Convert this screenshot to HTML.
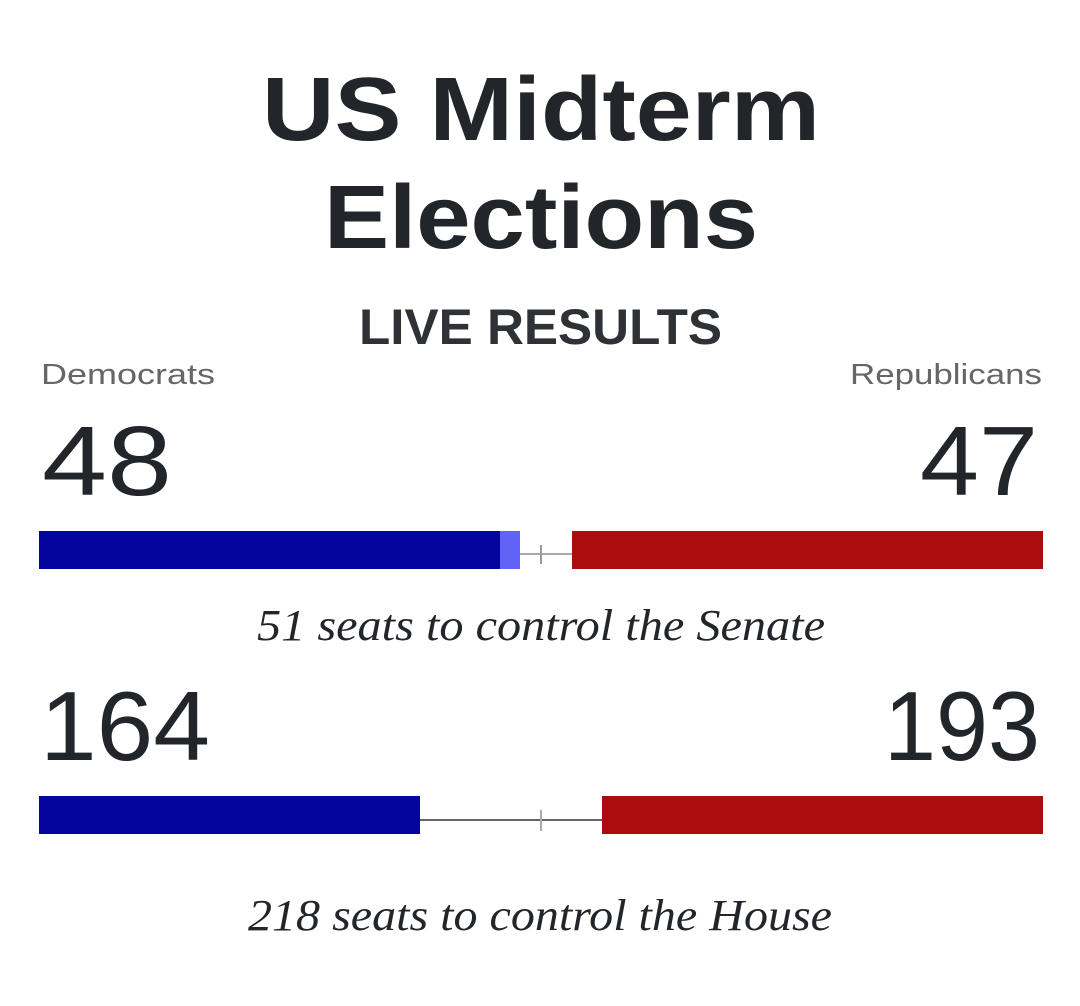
<!DOCTYPE html>
<html><head><meta charset="utf-8"><style>
html,body{margin:0;padding:0;background:#fff;}
svg{display:block;}
</style></head><body>
<svg width="1080" height="1006" viewBox="0 0 1080 1006" xmlns="http://www.w3.org/2000/svg">
<rect width="1080" height="1006" fill="#fff"/>
<g font-family="Liberation Sans, Arial, sans-serif" fill="#22262b" font-weight="bold">
<text x="262" y="140" font-size="90" textLength="558" lengthAdjust="spacingAndGlyphs">US Midterm</text>
<text x="324" y="248" font-size="90" textLength="434" lengthAdjust="spacingAndGlyphs">Elections</text>
<text x="359" y="344" font-size="50" fill="#2e3135" textLength="363" lengthAdjust="spacingAndGlyphs">LIVE RESULTS</text>
</g>
<g font-family="Liberation Sans, Arial, sans-serif" fill="#666" font-size="29">
<text x="41" y="384" textLength="174" lengthAdjust="spacingAndGlyphs">Democrats</text>
<text x="850" y="384" textLength="192" lengthAdjust="spacingAndGlyphs">Republicans</text>
</g>
<g font-family="Liberation Sans, Arial, sans-serif" fill="#22262b" font-size="98">
<text x="42" y="495" textLength="130" lengthAdjust="spacingAndGlyphs">48</text>
<text x="920" y="495" textLength="118" lengthAdjust="spacingAndGlyphs">47</text>
<text x="40" y="760" textLength="170" lengthAdjust="spacingAndGlyphs">164</text>
<text x="884" y="760" textLength="156" lengthAdjust="spacingAndGlyphs">193</text>
</g>
<!-- Senate bar -->
<rect x="39" y="531" width="461" height="38" fill="#02069e"/>
<rect x="500" y="531" width="20" height="38" fill="#5f63f6"/>
<line x1="520" y1="554" x2="572" y2="554" stroke="#aaa" stroke-width="2"/>
<line x1="541" y1="545" x2="541" y2="564" stroke="#999" stroke-width="2"/>
<rect x="572" y="531" width="471" height="38" fill="#ab0d0f"/>
<!-- House bar -->
<rect x="39" y="796" width="381" height="38" fill="#02069e"/>
<line x1="420" y1="820" x2="602" y2="820" stroke="#333" stroke-width="1.5"/>
<line x1="541" y1="810" x2="541" y2="831" stroke="#aaa" stroke-width="2"/>
<rect x="602" y="796" width="441" height="38" fill="#ab0d0f"/>
<g font-family="Liberation Serif, 'DejaVu Serif', serif" font-style="italic" fill="#22262b" font-size="44">
<text x="257" y="640" textLength="568" lengthAdjust="spacingAndGlyphs">51 seats to control the Senate</text>
<text x="248" y="930" textLength="584" lengthAdjust="spacingAndGlyphs">218 seats to control the House</text>
</g>
</svg>
</body></html>
